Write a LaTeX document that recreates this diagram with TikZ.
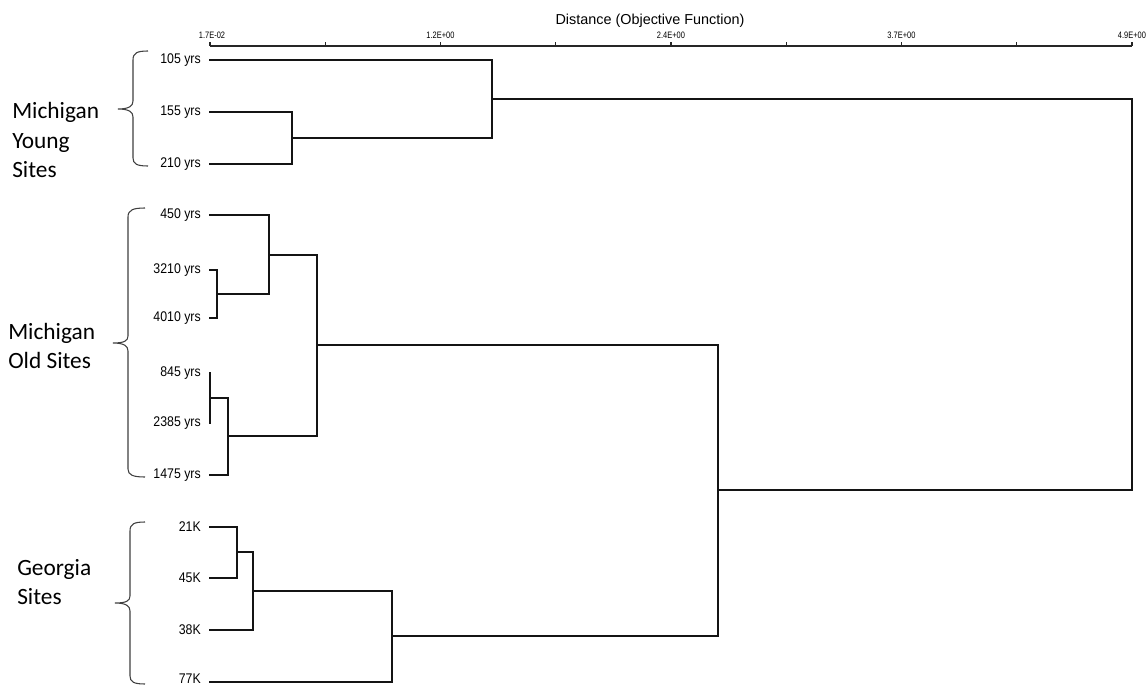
\documentclass[tikz,border=0pt]{standalone}
\usepackage{fontspec}
\setmainfont{Liberation Sans}
\newfontfamily\leaffont[FakeStretch=0.88]{Liberation Sans}
\newfontfamily\tickfont[FakeStretch=0.8]{Liberation Sans}
\newfontfamily\grpfont{Carlito}
\begin{document}
\begin{tikzpicture}[x=0.75pt,y=-0.75pt,
  dend/.style={line width=1.3pt,color=black!92,line cap=rect},
  axisline/.style={line width=1.0pt,color=black!85},
  bracestyle/.style={line width=0.8pt,color=black!75},
  leaflabel/.style={anchor=east,inner sep=0pt,font=\leaffont\fontsize{10.5}{12}\selectfont},
  ticklabel/.style={inner sep=0pt,font=\tickfont\fontsize{7}{8}\selectfont},
  grplabel/.style={anchor=west,inner sep=0pt,align=left,font=\grpfont\fontsize{17.5}{22}\selectfont}]
\useasboundingbox[fill=white] (0,0) rectangle (1147,685);

% axis
\node[font=\fontsize{10.8}{12}\selectfont] (title) at (650,21) {Distance (Objective Function)};
\coordinate (ax0) at (210,46);
\coordinate (ax1) at (1132,46);
\draw[axisline] (ax0) -- (ax1);
\foreach \k in {0,...,8}{
  \draw[axisline] ({210+\k*115.25},46) -- ({210+\k*115.25},42);
}
\node[ticklabel] (t0) at (212,35) {1.7E-02};
\node[ticklabel] (t1) at (440.5,35) {1.2E+00};
\node[ticklabel] (t2) at (671,35) {2.4E+00};
\node[ticklabel] (t3) at (901.5,35) {3.7E+00};
\node[ticklabel] (t4) at (1132,35) {4.9E+00};

% leaves
\foreach \n/\y/\t in {a1/60/105 yrs, a2/112/155 yrs, a3/164/210 yrs,
  b1/215/450 yrs, b2/270/3210 yrs, b3/318/4010 yrs, b4/373/845 yrs, b5/423/2385 yrs, b6/475/1475 yrs,
  c1/527/21K, c2/578/45K, c3/630/38K}{
  \coordinate (\n) at (210,\y);
  \node[leaflabel] (lab\n) at (201,\y) {\t};
}
\coordinate (c4) at (210,682);
\node[leaflabel] (labc4) at (201,678.5) {77K};

% junctions
\coordinate (j1) at (292,138);
\coordinate (j2) at (492,99);
\coordinate (j3) at (217,294);
\coordinate (j4) at (269,255);
\coordinate (j5) at (210,398);
\coordinate (j6) at (228,436);
\coordinate (j7) at (317,345);
\coordinate (j8) at (237,552);
\coordinate (j9) at (253,591);
\coordinate (j10) at (392,636);
\coordinate (j11) at (718,490);
\coordinate (root) at (1132,300);

% Michigan young
\draw[dend] (a2) -| (j1) |- (a3);
\draw[dend] (j1) -| (j2) |- (a1);
% Michigan old
\draw[dend] (b2) -| (j3) |- (b3);
\draw[dend] (j3) -| (j4) |- (b1);
\draw[dend] (b4) -- (b5);
\draw[dend] (j5) -| (j6) |- (b6);
\draw[dend] (j4) -| (j7) |- (j6);
% Georgia
\draw[dend] (c1) -| (j8) |- (c2);
\draw[dend] (j8) -| (j9) |- (c3);
\draw[dend] (j9) -| (j10) |- (c4);
% upper joins
\draw[dend] (j7) -| (j11) |- (j10);
\draw[dend] (j2) -| (root) |- (j11);

% braces
\draw[bracestyle] (148,51) .. controls (137,51) and (133,53) .. (133,60) -- (133,101)
  .. controls (133,106) and (129,109) .. (118,109)
  .. controls (129,109) and (133,112) .. (133,117) -- (133,158)
  .. controls (133,164) and (137,166) .. (148,166);
\draw[bracestyle] (145,208) .. controls (133,208) and (128,210) .. (128,217) -- (128,336)
  .. controls (128,341) and (124,343) .. (113,343)
  .. controls (124,343) and (128,346) .. (128,351) -- (128,469)
  .. controls (128,475) and (133,477) .. (145,477);
\draw[bracestyle] (145,522) .. controls (134,522) and (130,524) .. (130,531) -- (130,596)
  .. controls (130,601) and (126,603) .. (115,603)
  .. controls (126,603) and (130,606) .. (130,611) -- (130,676)
  .. controls (130,682) and (134,684) .. (145,684);

% group labels
\node[grplabel] (gy) at (12,140) {Michigan\\Young\\Sites};
\node[grplabel] (go) at (8,346) {Michigan\\Old Sites};
\node[grplabel] (gg) at (17,582) {Georgia\\Sites};
\end{tikzpicture}
\end{document}
